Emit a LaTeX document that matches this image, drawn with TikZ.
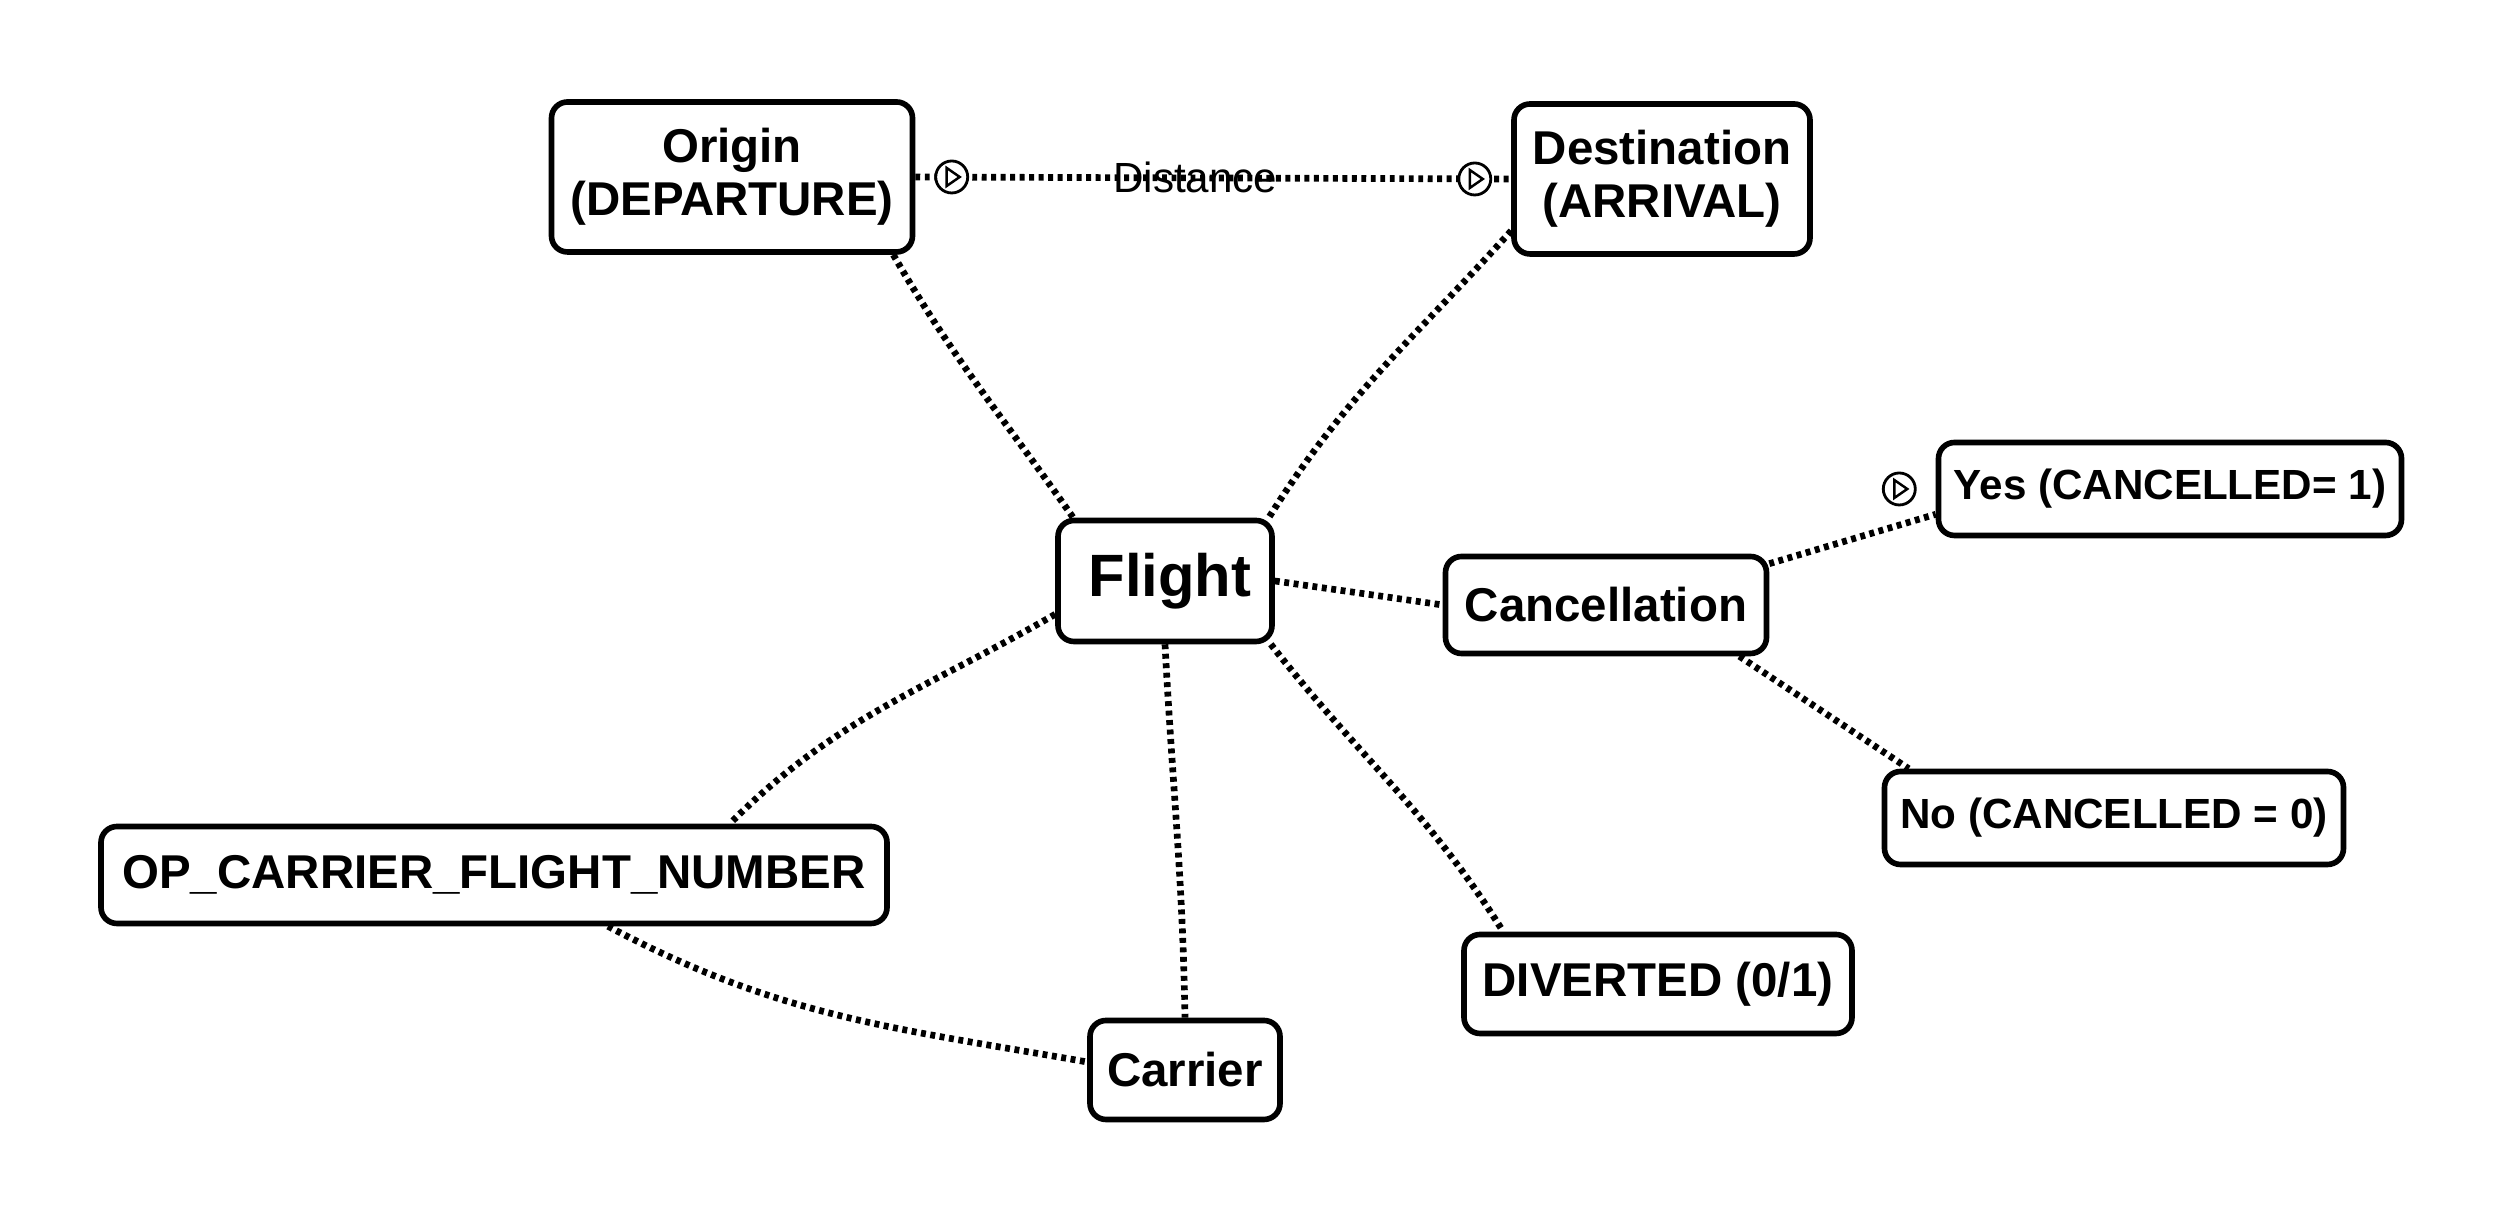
\documentclass[tikz,border=0pt]{standalone}
\usepackage{fontspec}
\setmainfont{Liberation Sans}
\usetikzlibrary{positioning,calc}

\begin{document}
\begin{tikzpicture}
    \tikzstyle{entity} = [rectangle, rounded corners=0.16cm, draw, line width=1.6pt, fill=white,
                          align=center, inner sep=0pt, font=\fontsize{13.5}{15}\selectfont\bfseries]
    \tikzstyle{link} = [line width=1.9pt, dash pattern=on 1.4pt off 1.3pt]
    \tikzstyle{playmark} = [circle, draw, line width=0.8pt, fill=white, minimum size=0.32cm, inner sep=0pt,
                            path picture={\draw[line width=0.7pt] ([shift={(-0.05,0.09)}]path picture bounding box.center)
                            -- ++(0.13,-0.09) -- ++(-0.13,-0.09) -- cycle;}]

    \useasboundingbox (0,0) rectangle (25.05,12.22);

    % Entities
    \node[entity, minimum width=3.61cm, minimum height=1.50cm] (origin) at (7.32,10.45) {Origin\\(DEPARTURE)};
    \node[entity, minimum width=2.96cm, minimum height=1.50cm] (dest) at (16.62,10.43) {Destination\\(ARRIVAL)};
    \node[entity, minimum width=2.14cm, minimum height=1.21cm, font=\fontsize{17}{20}\selectfont\bfseries] (flight) at (11.65,6.41) {\,Flight};
    \node[entity, minimum width=3.21cm, minimum height=0.97cm] (cancel) at (16.06,6.17) {Cancellation};
    \node[entity, minimum width=4.63cm, minimum height=0.93cm, font=\fontsize{12}{14}\selectfont\bfseries] (yes) at (21.70,7.33) {Yes (CANCELLED= 1)};
    \node[entity, minimum width=4.59cm, minimum height=0.93cm, font=\fontsize{12}{14}\selectfont\bfseries] (no) at (21.14,4.04) {No (CANCELLED = 0)};
    \node[entity, minimum width=3.88cm, minimum height=0.99cm] (divert) at (16.58,2.38) {DIVERTED (0/1)};
    \node[entity, minimum width=1.90cm, minimum height=0.99cm] (carrier) at (11.85,1.52) {Carrier};
    \node[entity, minimum width=7.86cm, minimum height=0.97cm] (fnum) at (4.94,3.47) {OP\_CARRIER\_FLIGHT\_NUMBER};

    % Connections
    \draw[link] (origin.east) -- node[pos=0.47, font=\fontsize{12}{14}\selectfont] (dist) {Distance} (dest.west);
    \draw[link] ([xshift=-0.22cm]origin.south east) to[out=-60, in=125] ([xshift=0.18cm]flight.north west);
    \draw[link] ([yshift=0.26cm]dest.south west) to[out=228, in=58] ([xshift=-0.06cm]flight.north east);
    \draw[link] (flight.east) -- (cancel.west);
    \draw[link] ([yshift=-0.1cm]cancel.north east) -- ([yshift=0.24cm]yes.south west);
    \draw[link] ([xshift=-0.3cm]cancel.south east) -- ([xshift=0.27cm]no.north west);
    \draw[link] ([xshift=-0.04cm]flight.south east) to[out=-52, in=122] ([xshift=0.42cm]divert.north west);
    \draw[link] (flight.south) to[out=-87, in=91] (carrier.north);
    \draw[link] ([yshift=0.3cm]flight.south west) to[out=210, in=45] ([xshift=-1.6cm]fnum.north east);
    \draw[link] ([xshift=1.14cm]fnum.south) to[out=-28, in=170] ([yshift=0.08cm]carrier.west);

    % Markers
    \node[playmark, right=0.19cm of origin] (m1) {};
    \node[playmark, left=0.19cm of dest] (m2) {};
    \node[playmark, left=0.19cm of yes] (m3) {};
\end{tikzpicture}
\end{document}
